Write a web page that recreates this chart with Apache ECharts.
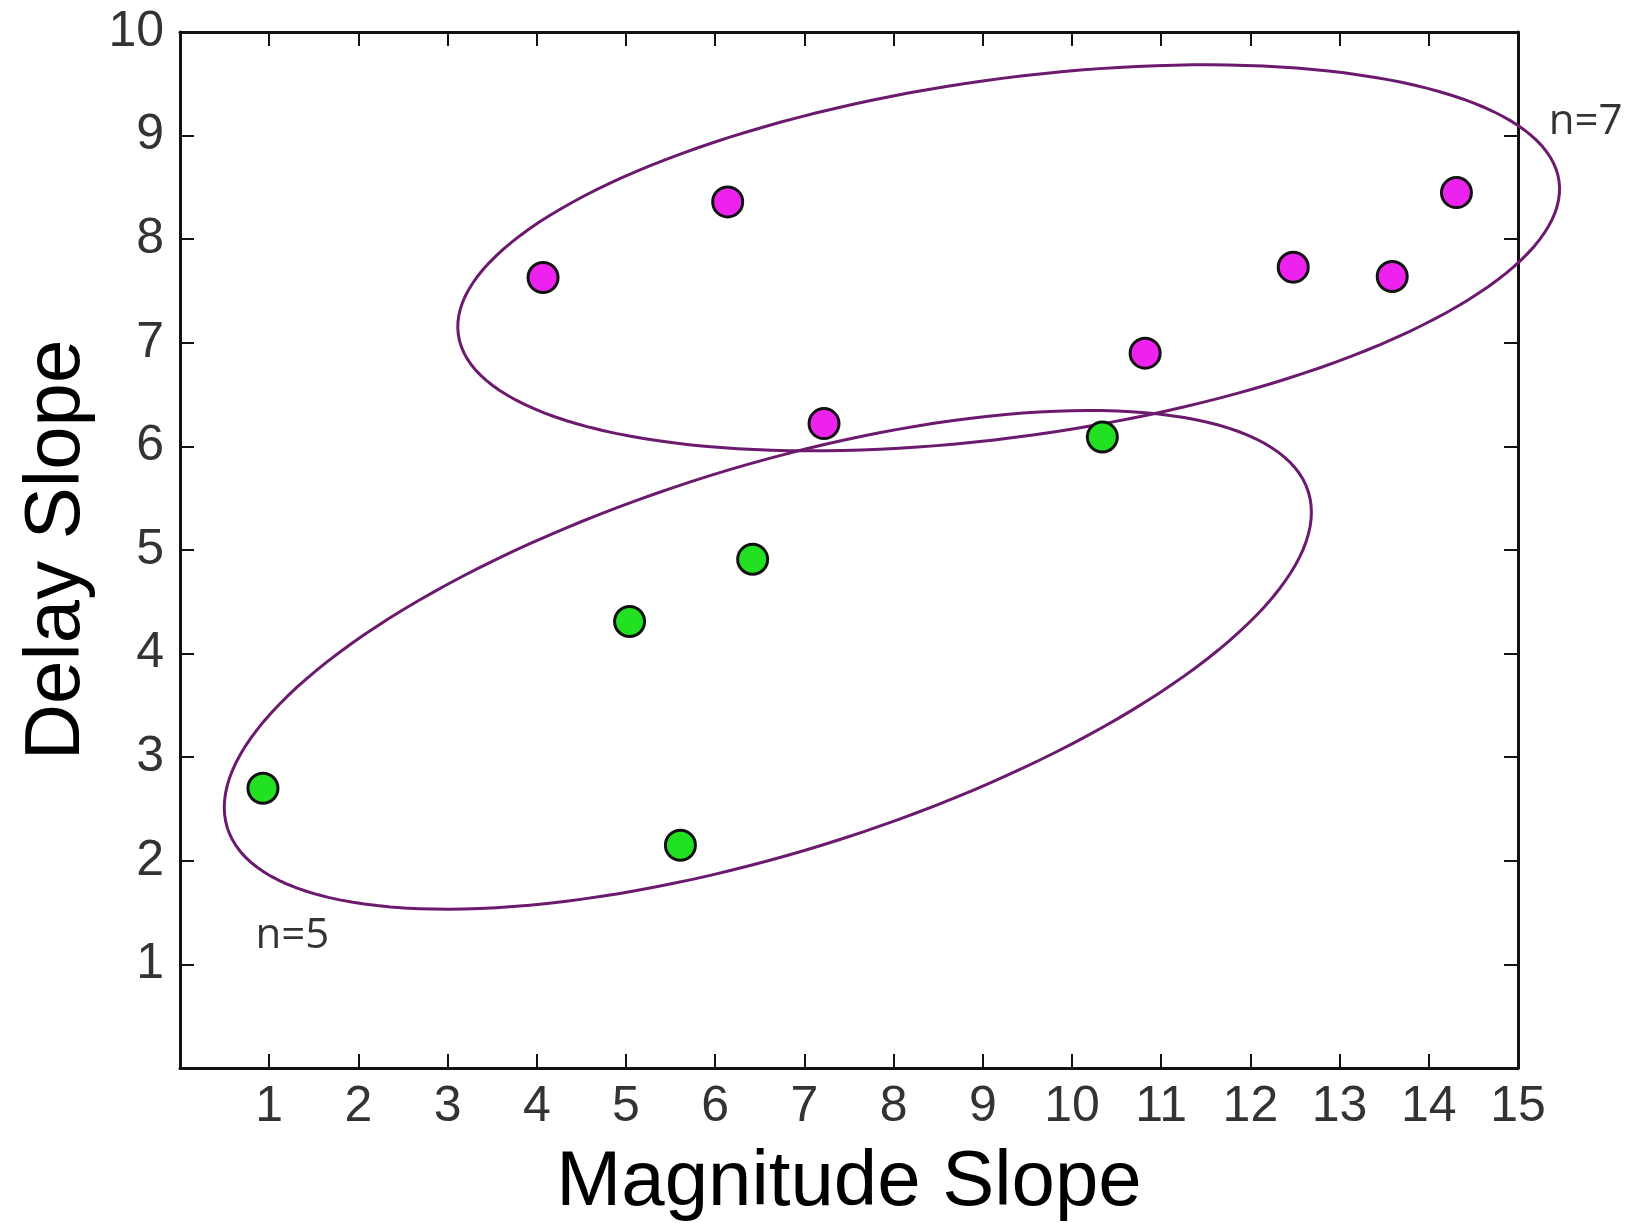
<!DOCTYPE html>
<html>
<head>
<meta charset="utf-8">
<script src="https://cdn.jsdelivr.net/npm/echarts@6/dist/echarts.min.js"></script>
<style>html,body{margin:0;padding:0;background:#fff;}#c{width:1631px;height:1223px;}</style>
</head>
<body>
<div id="c"></div>
<script>
// Group 1 (upper, magenta), n=7
const groupHigh = [[4.07,7.63],[6.14,8.36],[7.22,6.22],[10.82,6.90],[12.48,7.73],[13.59,7.64],[14.31,8.45]];
// Group 2 (lower, green), n=5
const groupLow = [[0.93,2.70],[5.04,4.31],[6.42,4.91],[5.61,2.15],[10.34,6.09]];
// Ellipses: [center, end of major semi-axis, end of minor semi-axis] in data units
const ellipseHigh = [[9.29,7.82],[15.46,8.56],[9.02,9.53]];
const ellipseLow = [[6.59,3.94],[12.65,5.56],[5.95,5.72]];
// Annotations
const notes = [[15.34,9.13,'n=7'],[0.84,1.27,'n=5']];
const xTicks = [1,2,3,4,5,6,7,8,9,10,11,12,13,14,15];
const yTicks = [1,2,3,4,5,6,7,8,9,10];

const chart = echarts.init(document.getElementById('c'));
const font = 'Liberation Sans, Arial, sans-serif';
const axisLine = {show:true, onZero:false, lineStyle:{color:'#111', width:3}};
const tickStyle = {show:true, inside:true, length:14, lineStyle:{color:'#111', width:2}};
function ellipseSeries(el){
  return {
    type:'custom', coordinateSystem:'cartesian2d', silent:true, clip:false, z:1,
    data:[el[0]],
    renderItem:function(params, api){
      const c = api.coord(el[0]), p = api.coord(el[1]), q = api.coord(el[2]);
      const ux = p[0]-c[0], uy = p[1]-c[1], vx = q[0]-c[0], vy = q[1]-c[1];
      const pts = [];
      for(let i=0;i<=180;i++){
        const t = i/180*Math.PI*2;
        pts.push([c[0]+Math.cos(t)*ux+Math.sin(t)*vx, c[1]+Math.cos(t)*uy+Math.sin(t)*vy]);
      }
      return {type:'polyline', shape:{points:pts}, style:{stroke:'#6b1a6e', lineWidth:3, fill:null}};
    }
  };
}
chart.setOption({
  backgroundColor:'#fff',
  animation:false,
  grid:{left:180, right:113, top:32, bottom:155, containLabel:false, outerBoundsMode:'none'},
  xAxis:[{
    type:'value', min:0, max:15, interval:1, position:'bottom',
    name:'Magnitude Slope', nameLocation:'middle', nameGap:76,
    nameTextStyle:{fontFamily:font, fontSize:78, color:'#000'},
    axisLine:axisLine, axisTick:tickStyle, splitLine:{show:false},
    axisLabel:{margin:14, fontFamily:font, fontSize:50, color:'#333',
      formatter:function(v){return xTicks.indexOf(v)>=0 ? String(v) : '';}}
  },{
    type:'value', min:0, max:15, interval:1, position:'top',
    axisLine:axisLine, axisTick:tickStyle, axisLabel:{show:false}, splitLine:{show:false}
  }],
  yAxis:[{
    type:'value', min:0, max:10, interval:1, position:'left',
    name:'Delay Slope', nameLocation:'middle', nameGap:84,
    nameTextStyle:{fontFamily:font, fontSize:78, color:'#000'},
    axisLine:axisLine, axisTick:tickStyle, splitLine:{show:false},
    axisLabel:{margin:16, fontFamily:font, fontSize:50, color:'#333',
      formatter:function(v){return yTicks.indexOf(v)>=0 ? String(v) : '';}}
  },{
    type:'value', min:0, max:10, interval:1, position:'right',
    axisLine:axisLine, axisTick:tickStyle, axisLabel:{show:false}, splitLine:{show:false}
  }],
  series:[
    ellipseSeries(ellipseHigh),
    ellipseSeries(ellipseLow),
    {type:'scatter', data:groupHigh, symbol:'circle', symbolSize:30, z:3,
      itemStyle:{color:'#ee22ee', borderColor:'#111', borderWidth:3, opacity:1}},
    {type:'scatter', data:groupLow, symbol:'circle', symbolSize:30, z:3,
      itemStyle:{color:'#22e022', borderColor:'#111', borderWidth:3, opacity:1}},
    {type:'scatter', data:notes.map(n=>({value:[n[0],n[1]], label:{formatter:n[2]}})),
      symbolSize:1, clip:false, silent:true, itemStyle:{color:'transparent'},
      label:{show:true, position:'right', distance:0, fontFamily:'Open Sans, Noto Sans, sans-serif', fontSize:42, color:'#000'}}
  ]
});
</script>
</body>
</html>
